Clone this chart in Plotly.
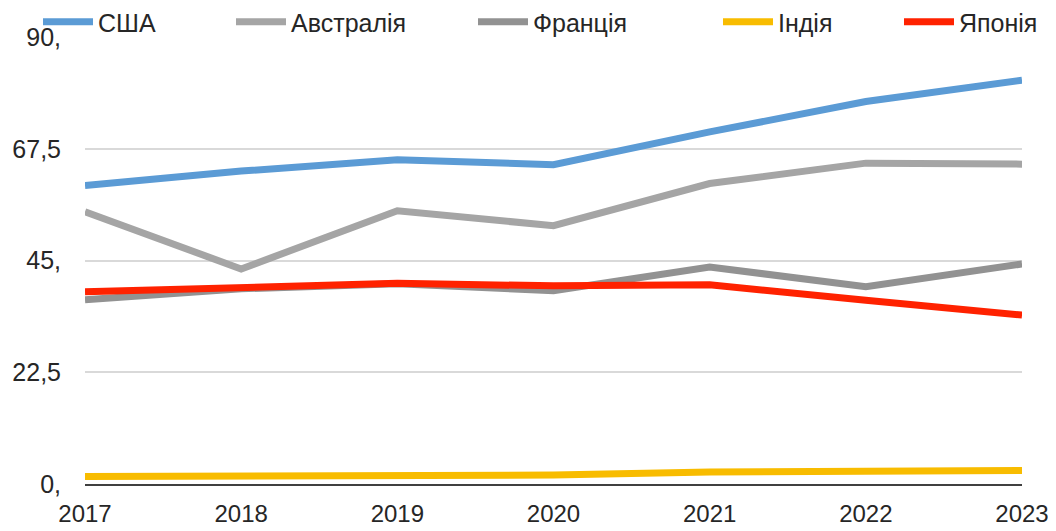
import plotly.graph_objects as go

years = [2017, 2018, 2019, 2020, 2021, 2022, 2023]
usa = [60.1, 63.0, 65.3, 64.3, 70.9, 77.0, 81.3]
australia = [54.8, 43.3, 55.0, 52.0, 60.5, 64.6, 64.4]
france = [37.1, 39.3, 40.3, 38.9, 43.7, 39.7, 44.3]
india = [1.5, 1.7, 1.9, 1.8, 2.4, 2.4, 2.7]
japan = [38.7, 39.6, 40.4, 39.9, 40.1, 37.0, 34.0]

series_names = ["США", "Австралія", "Франція", "Індія", "Японія"]
series_values = [usa, australia, france, india, japan]
series_colors = ["#5B9BD5", "#A5A5A5", "#929292", "#F8BC00", "#FF2200"]

y_ticks = [0, 22.5, 45, 67.5, 90]
y_ticktext = ["0,", "22,5", "45,", "67,5", "90,"]

# page body adds an 8px offset
OFF = 8
W, H = 1056 - 2 * OFF, 531 - OFF
L, T = 85 - OFF, 37 - OFF
pw, ph = 1022 - 85, 447
R = W - L - pw
B = H - T - ph

legend_line_start_px = [45, 238, 480, 725, 906]  # in window pixels

fig = go.Figure()
legend_ids = ["legend", "legend2", "legend3", "legend4", "legend5"]
for name, vals, col, lid in zip(series_names, series_values, series_colors, legend_ids):
    fig.add_trace(go.Scatter(
        x=years, y=vals, mode="lines", name=name,
        line=dict(color=col, width=7), legend=lid,
    ))

font = dict(family="Liberation Sans, Arial, sans-serif", size=25, color="#262626")
lfont = dict(family="Liberation Sans, Arial, sans-serif", size=25, color="#262626")
layout_legends = {}
for lid, px in zip(legend_ids, legend_line_start_px):
    layout_legends[lid] = dict(
        x=(px - OFF - 7 - L) / pw, xanchor="left",
        y=1 + 15 / ph, yanchor="middle",
        orientation="h", bgcolor="rgba(0,0,0,0)",
        font=lfont, borderwidth=0, itemwidth=50,
    )

fig.update_layout(
    width=W, height=H,
    margin=dict(l=L, r=R, t=T, b=B, pad=0, autoexpand=False),
    paper_bgcolor="white", plot_bgcolor="white",
    font=font,
    showlegend=True,
    **layout_legends,
)
fig.update_xaxes(
    range=[2017, 2023], tickvals=years, ticktext=[str(y) for y in years],
    showgrid=False, zeroline=False, showline=True, linecolor="#404040", linewidth=2,
    ticks="", ticklabelstandoff=7, tickfont=dict(font, size=24), automargin=False,
    ticklabeloverflow="allow",
)
fig.update_yaxes(
    range=[0, 90], tickvals=y_ticks, ticktext=y_ticktext,
    showgrid=True, gridcolor="#D9D9D9", gridwidth=2, zeroline=False,
    showline=False, ticks="", ticklabelstandoff=23, tickfont=font, automargin=False,
)
fig.write_html("out.html")
